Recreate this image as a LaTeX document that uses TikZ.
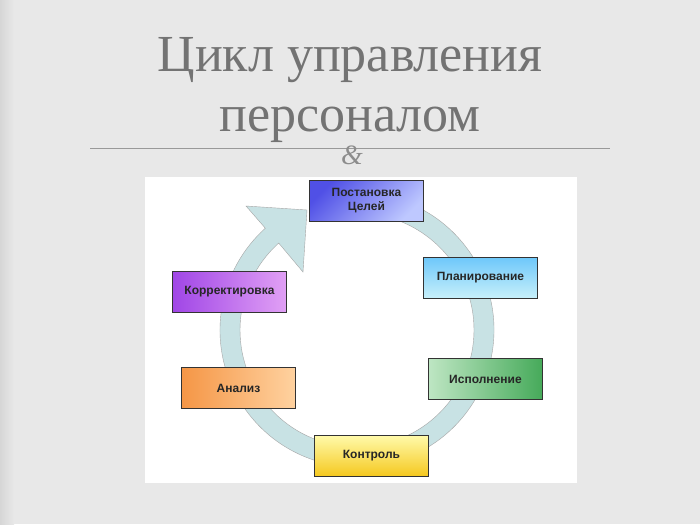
\documentclass[tikz,border=0pt]{standalone}
\usepackage{fontspec}
\setmainfont{Liberation Serif}
\newfontfamily\boxfont{Liberation Sans}
\begin{document}
\begin{tikzpicture}[x=1pt,y=-1pt,
  stepbox/.style={draw=black!80,line width=0.9pt,minimum width=114pt,minimum height=41pt,anchor=north west,inner sep=0pt,font=\boxfont\bfseries\fontsize{12}{14}\selectfont,align=center,text=black!85}]
\useasboundingbox (0,0) rectangle (700,524);
\fill[black!9] (0,0) rectangle (700,524);
\shade[left color=black!16,right color=black!9] (0,0) rectangle (14,524);
\node[text=black!55,font=\fontsize{52}{60}\selectfont,align=center] (title) at (350,90) {Цикл управления\\персоналом};
\coordinate (l1) at (90,148); \coordinate (l2) at (610,148);
\draw[black!40,line width=0.8pt] (l1) -- (l2);
\node[text=black!45,font=\itshape\fontsize{28}{28}\selectfont] (orn) at (352,155) {\&};
\fill[white] (145,177) rectangle (577,483);
% ring
\begin{scope}[shift={(357,330)}]
\filldraw[fill={rgb,255:red,200;green,226;blue,228},draw=black!35,line width=0.4pt]
  (-80:137) arc[start angle=-80,end angle=228,radius=137]
  -- (-111,-124) -- (-50,-120) -- (-54,-58)
  -- (228:117) arc[start angle=228,end angle=-80,radius=117] -- cycle;
\end{scope}
\node[stepbox,left color={rgb,255:red,80;green,80;blue,230},right color={rgb,255:red,190;green,200;blue,255},shading angle=45] (a) at (309,180) {Постановка\\Целей};
\node[stepbox,top color={rgb,255:red,110;green,200;blue,250},bottom color={rgb,255:red,200;green,240;blue,250}] (b) at (423,257) {Планирование};
\node[stepbox,left color={rgb,255:red,190;green,230;blue,195},right color={rgb,255:red,70;green,170;blue,90}] (c) at (428,358) {Исполнение};
\node[stepbox,top color={rgb,255:red,255;green,250;blue,170},bottom color={rgb,255:red,245;green,200;blue,30}] (d) at (314,435) {Контроль};
\node[stepbox,left color={rgb,255:red,245;green,150;blue,70},right color={rgb,255:red,255;green,210;blue,160}] (e) at (181,367) {Анализ};
\node[stepbox,left color={rgb,255:red,160;green,70;blue,230},right color={rgb,255:red,225;green,160;blue,245}] (f) at (172,271) {Корректировка};
\end{tikzpicture}
\end{document}
